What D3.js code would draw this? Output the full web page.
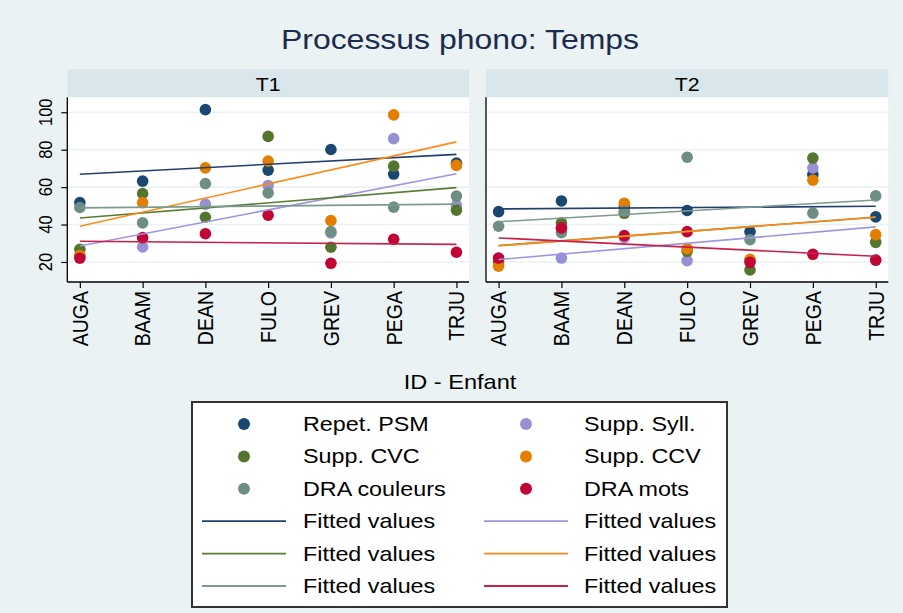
<!DOCTYPE html>
<html>
<head>
<meta charset="utf-8">
<script src="https://cdn.jsdelivr.net/npm/d3@7"></script>
<style>
  body { margin: 0; background: #eaf2f3; }
  svg { display: block; font-family: "Liberation Sans", Arial, sans-serif; }
</style>
</head>
<body>
<svg></svg>
<script>
// Chart data
const children = ["AUGA", "BAAM", "DEAN", "FULO", "GREV", "PEGA", "TRJU"];
const periods = ["T1", "T2"];
const seriesNames = ["Repet. PSM", "Supp. Syll.", "Supp. CVC", "Supp. CCV", "DRA couleurs", "DRA mots"];
const yTicks = [20, 40, 60, 80, 100];

// values per series, one array per period (order follows children)
const repetPSM   = { T1: [51.7, 63.2, 101.4, 69.1, 80.1, 67.0, 72.8], T2: [46.9, 52.6, 49.4, 47.5, 36.2, 66.7, 44.1] };
const suppSyll   = { T1: [23.5, 28.0, 50.9, 60.9, 35.5, 85.9, 50.2],  T2: [22.0, 22.1, 33.0, 20.7, 21.0, 70.3, 21.0] };
const suppCVC    = { T1: [26.8, 56.6, 43.9, 87.1, 27.9, 71.2, 47.7],  T2: [20.0, 40.9, 46.0, 25.7, 15.7, 75.5, 30.5] };
const suppCCV    = { T1: [23.4, 51.7, 70.3, 73.9, 42.1, 98.6, 71.6],  T2: [17.8, 38.0, 51.4, 27.1, 21.4, 63.7, 34.6] };
const draCouleur = { T1: [49.1, 40.9, 61.9, 56.9, 36.2, 49.3, 55.2],  T2: [39.1, 35.7, 47.1, 76.0, 31.9, 46.1, 55.3] };
const draMots    = { T1: [22.0, 33.0, 35.1, 45.0, 19.3, 32.1, 25.2],  T2: [22.1, 38.2, 34.1, 36.2, 19.8, 24.1, 21.0] };

const allSeries = [repetPSM, suppSyll, suppCVC, suppCCV, draCouleur, draMots];

// Colours (markers, then fitted lines)
const dotColors  = ["#1a476f", "#9790d4", "#55752f", "#e37e00", "#6e8e84", "#c10534"];
const lineColors = ["#223f70", "#9d95e0", "#5b7d33", "#ff8a1c", "#7c9a90", "#c8204a"];

const width = 903;
const height = 613;
const stretch = 1.15; // text in the original is slightly wide

const svg = d3.select("svg")
    .attr("width", width)
    .attr("height", height);

svg.append("rect")
    .attr("width", width)
    .attr("height", height)
    .attr("fill", "#eaf2f3");

// Title
svg.append("text")
    .attr("transform", `translate(460, 49) scale(${stretch},1)`)
    .attr("text-anchor", "middle")
    .style("font-size", "27.8px")
    .style("fill", "#1c2c4c")
    .text("Processus phono: Temps");

// Shared y scale
const plotTop = 97.3;
const plotBottom = 282;
const y = d3.scaleLinear()
    .domain([9.3, 108])
    .range([plotBottom, plotTop]);

// Panel layout
const panels = [
    { period: "T1", left: 67.3, right: 469 },
    { period: "T2", left: 486, right: 888.3 }
];

// least squares fit on the category index
function linearFit(values) {
    const n = values.length;
    const xs = d3.range(n);
    const mx = d3.mean(xs);
    const my = d3.mean(values);
    const sxy = d3.sum(xs, (xv, i) => (xv - mx) * (values[i] - my));
    const sxx = d3.sum(xs, xv => (xv - mx) * (xv - mx));
    const b = sxy / sxx;
    return i => my + b * (i - mx);
}

panels.forEach((p, pi) => {
    const x = d3.scalePoint()
        .domain(children)
        .range([p.left, p.right])
        .padding(0.2);

    // header strip
    svg.append("rect")
        .attr("x", p.left)
        .attr("y", 69.3)
        .attr("width", p.right - p.left)
        .attr("height", plotTop - 69.3)
        .attr("fill", "#d9e6eb");

    svg.append("text")
        .attr("transform", `translate(${(p.left + p.right) / 2}, 90.5) scale(${stretch},1)`)
        .attr("text-anchor", "middle")
        .style("font-size", "18.5px")
        .style("fill", "#000")
        .text(p.period);

    // plot region
    svg.append("rect")
        .attr("x", p.left)
        .attr("y", plotTop)
        .attr("width", p.right - p.left)
        .attr("height", plotBottom - plotTop)
        .attr("fill", "#fff");

    // gridlines
    svg.append("g")
        .selectAll("line")
        .data(yTicks)
        .enter().append("line")
        .attr("x1", p.left)
        .attr("x2", p.right)
        .attr("y1", d => y(d))
        .attr("y2", d => y(d))
        .attr("stroke", "#eaf2f3")
        .attr("stroke-width", 1.6);

    // scatter points, series drawn in order
    allSeries.forEach((s, si) => {
        svg.append("g")
            .selectAll("circle")
            .data(s[p.period])
            .enter().append("circle")
            .attr("cx", (d, i) => x(children[i]))
            .attr("cy", d => y(d))
            .attr("r", 5.8)
            .attr("fill", dotColors[si]);
    });

    // fitted values
    allSeries.forEach((s, si) => {
        const fit = linearFit(s[p.period]);
        const last = children.length - 1;
        svg.append("line")
            .attr("x1", x(children[0]))
            .attr("x2", x(children[last]))
            .attr("y1", y(fit(0)))
            .attr("y2", y(fit(last)))
            .attr("stroke", lineColors[si])
            .attr("stroke-width", 1.6);
    });

    // x axis
    const xAxis = svg.append("g")
        .attr("transform", `translate(0, ${plotBottom})`)
        .call(d3.axisBottom(x).tickSize(6).tickSizeOuter(0).tickFormat(""));
    xAxis.select(".domain")
        .attr("d", `M${p.left},0H${p.right}`)
        .attr("stroke", "#000")
        .attr("stroke-width", 1.3);
    xAxis.selectAll(".tick line").attr("stroke", "#000").attr("stroke-width", 1.2);

    svg.append("g")
        .selectAll("text")
        .data(children)
        .enter().append("text")
        .attr("transform", d => `translate(${x(d)}, 291) scale(${stretch},1) rotate(-90)`)
        .attr("text-anchor", "end")
        .attr("dy", "0.35em")
        .style("font-size", "19.5px")
        .style("fill", "#000")
        .text(d => d);

    // y axis line (ticks only on the first panel)
    svg.append("line")
        .attr("x1", p.left)
        .attr("x2", p.left)
        .attr("y1", plotTop)
        .attr("y2", plotBottom)
        .attr("stroke", "#000")
        .attr("stroke-width", 1.3);

    if (pi === 0) {
        const yAxis = svg.append("g")
            .attr("transform", `translate(${p.left}, 0)`)
            .call(d3.axisLeft(y).tickValues(yTicks).tickSize(6).tickSizeOuter(0).tickFormat(""));
        yAxis.select(".domain").remove();
        yAxis.selectAll(".tick line").attr("stroke", "#000").attr("stroke-width", 1.2);

        svg.append("g")
            .selectAll("text")
            .data(yTicks)
            .enter().append("text")
            .attr("transform", d => `translate(45, ${y(d)}) scale(${stretch},1) rotate(-90)`)
            .attr("text-anchor", "middle")
            .attr("dy", "0.35em")
            .style("font-size", "16.5px")
            .style("fill", "#000")
            .text(d => d);
    }
});

// x axis title
svg.append("text")
    .attr("transform", `translate(460, 389) scale(${stretch},1)`)
    .attr("text-anchor", "middle")
    .style("font-size", "20.5px")
    .style("fill", "#000")
    .text("ID - Enfant");

// Legend
svg.append("rect")
    .attr("x", 192)
    .attr("y", 402)
    .attr("width", 535)
    .attr("height", 205)
    .attr("fill", "#fff")
    .attr("stroke", "#333")
    .attr("stroke-width", 2);

const legendItems = [];
seriesNames.forEach((name, i) => legendItems.push({ label: name, type: "dot", color: dotColors[i] }));
seriesNames.forEach((name, i) => legendItems.push({ label: "Fitted values", type: "line", color: lineColors[i] }));

const colX = [{ key: 244, text: 303, l1: 202, l2: 286 }, { key: 526, text: 584, l1: 484, l2: 568 }];
const rowY = d3.scaleLinear().domain([0, 5]).range([424, 586]);

const item = svg.append("g")
    .selectAll("g")
    .data(legendItems)
    .enter().append("g")
    .attr("transform", (d, i) => `translate(0, ${rowY(Math.floor(i / 2))})`);

item.filter(d => d.type === "dot")
    .append("circle")
    .attr("cx", d => colX[legendItems.indexOf(d) % 2].key)
    .attr("r", 6)
    .attr("fill", d => d.color);

item.filter(d => d.type === "line")
    .append("line")
    .attr("x1", d => colX[legendItems.indexOf(d) % 2].l1)
    .attr("x2", d => colX[legendItems.indexOf(d) % 2].l2)
    .attr("stroke", d => d.color)
    .attr("stroke-width", 1.8);

item.append("text")
    .attr("transform", d => `translate(${colX[legendItems.indexOf(d) % 2].text}, 7) scale(${stretch},1)`)
    .style("font-size", "20.3px")
    .style("fill", "#000")
    .text(d => d.label);
</script>
</body>
</html>
